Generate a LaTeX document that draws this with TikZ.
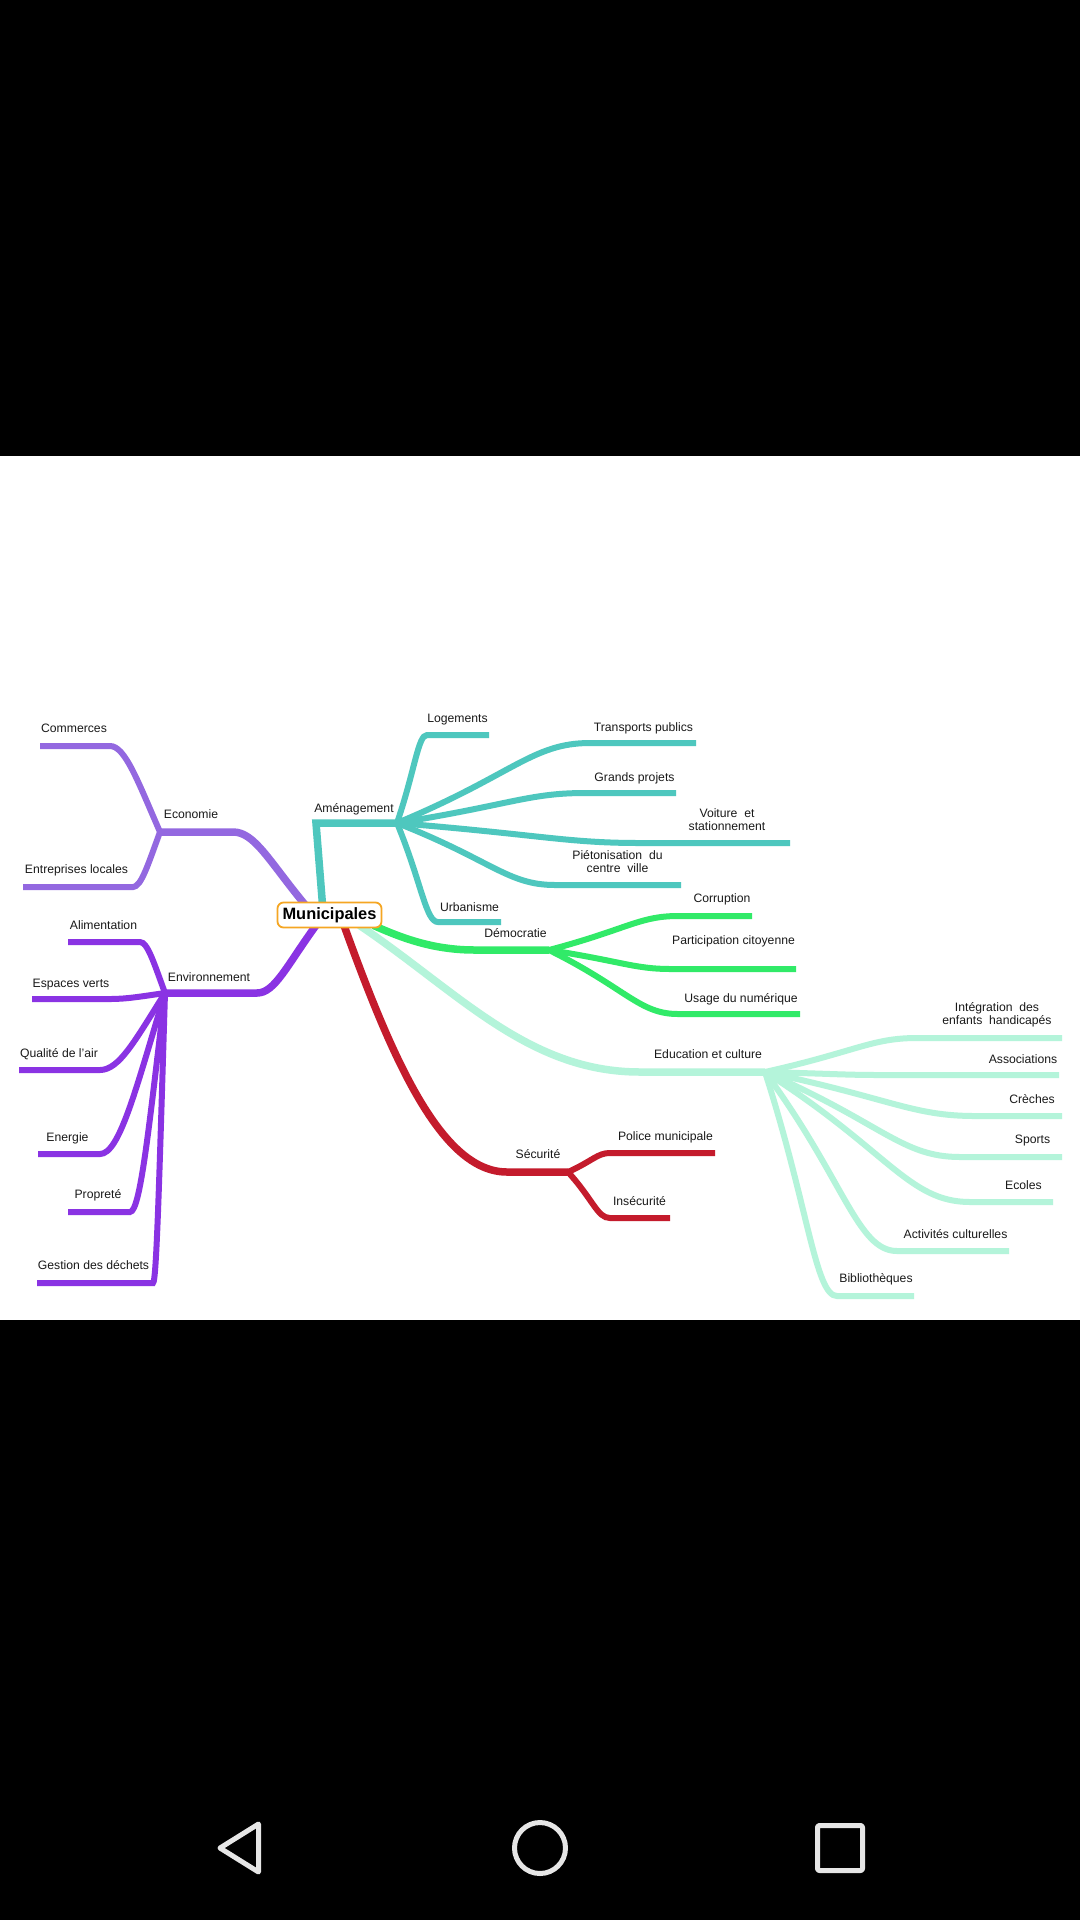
\documentclass[tikz,border=0pt]{standalone}
\usepackage{fontspec}
\setmainfont{Liberation Sans}
\usetikzlibrary{calc}
\pgfdeclarelayer{bg}
\pgfsetlayers{bg,main}
\definecolor{colEco}{HTML}{9368E0}
\definecolor{colEnv}{HTML}{8A33E3}
\definecolor{colAm}{HTML}{4EC7BE}
\definecolor{colDem}{HTML}{31EA68}
\definecolor{colEdu}{HTML}{B4F4DA}
\definecolor{colSec}{HTML}{C41B2C}
\definecolor{rootorange}{HTML}{F5A623}
\definecolor{navgrey}{HTML}{E6E6E6}
\definecolor{txt}{HTML}{1A1A1A}
% style, J, S, E, a, b, c
\newcommand\mmb[7]{\draw[#1] let \p1=(#2), \p2=(#3) in (#2) .. controls ({\x1+#5*(\x2-\x1)},{\y1+#6*(\y2-\y1)}) and ({\x2-#7*(\x2-\x1)},{\y2}) .. (#3) -- (#4);}
\tikzset{
  lab/.style={font=\fontsize{12.2}{13}\selectfont, text=txt, inner sep=0pt, anchor=base},
  labtwo/.style={font=\fontsize{12.2}{13}\selectfont, text=txt, inner sep=0pt, align=center, anchor=center},
  mainbr/.style={line width=7.5pt},
  subbr/.style={line width=6pt},
  root/.style={draw=rootorange, line width=1.8pt, fill=white, rounded corners=6pt, minimum width=104pt, minimum height=25pt, inner sep=0pt, text=black, font=\bfseries\fontsize{16.4}{18}\selectfont},
  nav/.style={draw=navgrey, line width=5pt, line join=round}
}
\begin{document}
\begin{tikzpicture}[x=1pt,y=-1pt]
\useasboundingbox (0,0) rectangle (1080,1920);
\begin{pgfonlayer}{bg}
\fill[black] (0,0) rectangle (1080,1920);
\fill[white] (0,456) rectangle (1080,1320);
\end{pgfonlayer}

% root
\node[root] (mun) at (329.5,915) {Municipales};

% start points on the root
\coordinate (ecoA) at ([xshift=-24.5pt,yshift=-3pt]mun.north);
\coordinate (amA) at ([xshift=-7pt,yshift=-3pt]mun.north);
\coordinate (envA) at ([xshift=-13.5pt,yshift=3pt]mun.south);
\coordinate (secA) at ([xshift=14.5pt,yshift=3pt]mun.south);
\coordinate (eduA) at ([xshift=30pt,yshift=3pt]mun.south);
\coordinate (demA) at ([xshift=-9pt,yshift=3pt]mun.south east);

% Economie
\coordinate (ecoS) at (233,832); \coordinate (ecoJ) at (160,832);
\coordinate (comS) at (110,746); \coordinate (comE) at (40,746);
\coordinate (entS) at (133,887); \coordinate (entE) at (23,887);
% Environnement
\coordinate (envS) at (257,993); \coordinate (envJ) at (165,993);
\coordinate (aliS) at (140,942); \coordinate (aliE) at (68,942);
\coordinate (espS) at (110,999); \coordinate (espE) at (32,999);
\coordinate (quaS) at (100,1070); \coordinate (quaE) at (19,1070);
\coordinate (eneS) at (100,1154); \coordinate (eneE) at (38,1154);
\coordinate (proS) at (130,1212); \coordinate (proE) at (68,1212);
\coordinate (gesS) at (153,1283); \coordinate (gesE) at (37,1283);
% Amenagement
\coordinate (amC) at (316,823); \coordinate (amJ) at (397,823);
\coordinate (logS) at (427,735); \coordinate (logE) at (489,735);
\coordinate (traS) at (590,743); \coordinate (traE) at (696,743);
\coordinate (graS) at (585,793); \coordinate (graE) at (676,793);
\coordinate (voiS) at (640,843); \coordinate (voiE) at (790,843);
\coordinate (pieS) at (555,885); \coordinate (pieE) at (681,885);
\coordinate (urbS) at (438,922); \coordinate (urbE) at (501,922);
% Democratie
\coordinate (demS) at (475,950); \coordinate (demJ) at (549,950);
\coordinate (corS) at (678,916); \coordinate (corE) at (752,916);
\coordinate (parS) at (671,969); \coordinate (parE) at (796,969);
\coordinate (usaS) at (678,1014); \coordinate (usaE) at (800,1014);
% Education
\coordinate (eduS) at (640,1072); \coordinate (eduJ) at (765,1072);
\coordinate (intS) at (917,1038); \coordinate (intE) at (1062,1038);
\coordinate (assS) at (880,1075); \coordinate (assE) at (1059,1075);
\coordinate (creS) at (975,1116); \coordinate (creE) at (1062,1116);
\coordinate (spoS) at (960,1157); \coordinate (spoE) at (1062,1157);
\coordinate (ecoleS) at (970,1202); \coordinate (ecoleE) at (1053,1202);
\coordinate (actS) at (897,1251); \coordinate (actE) at (1009,1251);
\coordinate (bibS) at (837,1296); \coordinate (bibE) at (914,1296);
% Securite
\coordinate (secS) at (507,1172); \coordinate (secJ) at (568,1172);
\coordinate (polS) at (610,1153); \coordinate (polE) at (715,1153);
\coordinate (insS) at (610,1218); \coordinate (insE) at (670,1218);

\begin{pgfonlayer}{bg}
% Economie
\mmb{mainbr,colEco}{ecoA}{ecoS}{ecoJ}{0.5}{0.6}{0.3}
\mmb{subbr,colEco}{ecoJ}{comS}{comE}{0.45}{0.6}{0.3}
\mmb{subbr,colEco}{ecoJ}{entS}{entE}{0.45}{0.6}{0.3}
% Environnement
\mmb{mainbr,colEnv}{envA}{envS}{envJ}{0.5}{0.6}{0.3}
\mmb{subbr,colEnv}{envJ}{aliS}{aliE}{0.45}{0.6}{0.3}
\mmb{subbr,colEnv}{envJ}{espS}{espE}{0.45}{0.6}{0.3}
\mmb{subbr,colEnv}{envJ}{quaS}{quaE}{0.45}{0.6}{0.3}
\mmb{subbr,colEnv}{envJ}{eneS}{eneE}{0.45}{0.6}{0.3}
\mmb{subbr,colEnv}{envJ}{proS}{proE}{0.45}{0.6}{0.3}
\mmb{subbr,colEnv}{envJ}{gesS}{gesE}{0.45}{0.6}{0.3}
% Amenagement
\draw[mainbr,colAm] (amA) -- (amC) -- (amJ);
\mmb{subbr,colAm}{amJ}{logS}{logE}{0.6}{0.6}{0.3}
\mmb{subbr,colAm}{amJ}{traS}{traE}{0.6}{0.6}{0.3}
\mmb{subbr,colAm}{amJ}{graS}{graE}{0.6}{0.6}{0.3}
\mmb{subbr,colAm}{amJ}{voiS}{voiE}{0.6}{0.6}{0.3}
\mmb{subbr,colAm}{amJ}{pieS}{pieE}{0.6}{0.6}{0.3}
\mmb{subbr,colAm}{amJ}{urbS}{urbE}{0.6}{0.6}{0.3}
% Democratie
\mmb{mainbr,colDem}{demA}{demS}{demJ}{0.3}{0.55}{0.4}
\mmb{subbr,colDem}{demJ}{corS}{corE}{0.6}{0.6}{0.3}
\mmb{subbr,colDem}{demJ}{parS}{parE}{0.6}{0.6}{0.3}
\mmb{subbr,colDem}{demJ}{usaS}{usaE}{0.6}{0.6}{0.3}
% Education
\mmb{mainbr,colEdu}{eduA}{eduS}{eduJ}{0.35}{0.45}{0.4}
\mmb{subbr,colEdu}{eduJ}{intS}{intE}{0.6}{0.6}{0.3}
\mmb{subbr,colEdu}{eduJ}{assS}{assE}{0.6}{0.6}{0.3}
\mmb{subbr,colEdu}{eduJ}{creS}{creE}{0.6}{0.6}{0.3}
\mmb{subbr,colEdu}{eduJ}{spoS}{spoE}{0.6}{0.6}{0.3}
\mmb{subbr,colEdu}{eduJ}{ecoleS}{ecoleE}{0.6}{0.6}{0.3}
\mmb{subbr,colEdu}{eduJ}{actS}{actE}{0.6}{0.6}{0.3}
\mmb{subbr,colEdu}{eduJ}{bibS}{bibE}{0.6}{0.6}{0.3}
% Securite
\mmb{mainbr,colSec}{secA}{secS}{secJ}{0.3}{0.55}{0.4}
\mmb{subbr,colSec}{secJ}{polS}{polE}{0.6}{0.6}{0.3}
\mmb{subbr,colSec}{secJ}{insS}{insE}{0.6}{0.6}{0.3}
\end{pgfonlayer}

% labels
\node[lab] (tEco) at (191,818) {Economie};
\node[lab] (tCom) at (74,732) {Commerces};
\node[lab] (tEnt) at (76.5,873) {Entreprises locales};
\node[lab] (tEnv) at (209,981) {Environnement};
\node[lab] (tAli) at (103.5,929) {Alimentation};
\node[lab] (tEsp) at (71,987) {Espaces verts};
\node[lab] (tQua) at (59,1057) {Qualité de l'air};
\node[lab] (tEne) at (67.5,1141) {Energie};
\node[lab] (tPro) at (98,1198) {Propreté};
\node[lab] (tGes) at (93.5,1269) {Gestion des déchets};
\node[lab] (tAm) at (354,812) {Aménagement};
\node[lab] (tLog) at (457.5,722) {Logements};
\node[lab] (tTra) at (643.5,731) {Transports publics};
\node[lab] (tGra) at (634.5,781) {Grands projets};
\node[labtwo] (tVoi) at (727,819.5) {Voiture\ \ et\\stationnement};
\node[labtwo] (tPie) at (617.5,862) {Piétonisation\ \ du\\centre\ \ ville};
\node[lab] (tUrb) at (469.5,911) {Urbanisme};
\node[lab] (tDem) at (515.5,937) {Démocratie};
\node[lab] (tCor) at (722,902) {Corruption};
\node[lab] (tPar) at (733.5,944) {Participation citoyenne};
\node[lab] (tUsa) at (741,1002) {Usage du numérique};
\node[lab] (tEdu) at (708,1058) {Education et culture};
\node[labtwo] (tInt) at (997,1015) {Intégration\ \ des\\enfants\ \ handicapés};
\node[lab] (tAss) at (1023,1063) {Associations};
\node[lab] (tCre) at (1032,1103) {Crèches};
\node[lab] (tSpo) at (1032.5,1143) {Sports};
\node[lab] (tEcole) at (1023.5,1189) {Ecoles};
\node[lab] (tAct) at (955.5,1238) {Activités culturelles};
\node[lab] (tBib) at (876,1282) {Bibliothèques};
\node[lab] (tSec) at (538,1158) {Sécurité};
\node[lab] (tPol) at (665.5,1140) {Police municipale};
\node[lab] (tIns) at (639.5,1205) {Insécurité};

% navigation bar
\draw[nav] (258.5,1824) -- (258.5,1872) -- (220,1848) -- cycle;
\draw[nav] (540,1848) circle[radius=25.5];
\draw[nav, rounded corners=2pt] (817.5,1825.5) rectangle (862.5,1870.5);
\end{tikzpicture}
\end{document}
